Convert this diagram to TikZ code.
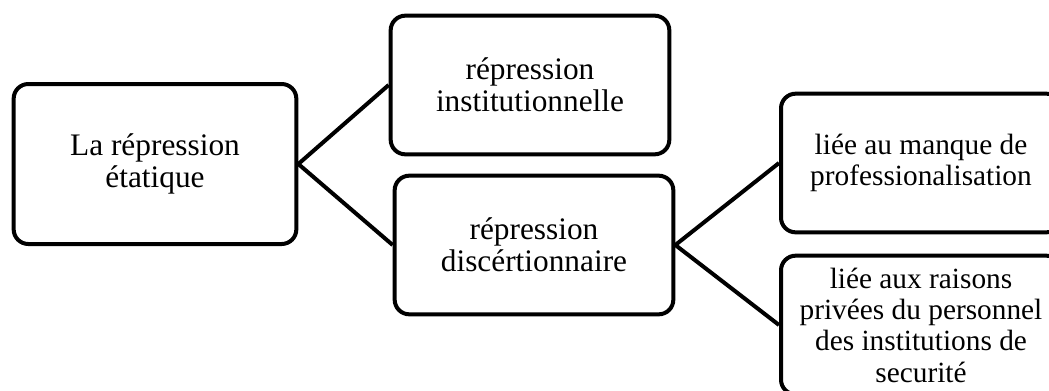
\documentclass[tikz,border=0pt]{standalone}
\usepackage{fontspec}
\setmainfont{Liberation Serif}
\usepackage{tikz}
\usetikzlibrary{positioning}
\tikzset{
  box/.style = {draw=black, line width=3pt, rounded corners=11pt,
    align=center, inner sep=0pt, text centered,
    font=\fontsize{23.5}{24}\selectfont},
  bigbox/.style = {box, minimum width=212pt, minimum height=120pt},
  midbox/.style = {box, minimum width=209pt, minimum height=104pt},
  sidebox/.style = {box, minimum width=210pt, minimum height=104pt,
    font=\fontsize{22}{23.5}\selectfont},
  link/.style = {draw=black, line width=3pt}
}
\begin{document}
\begin{tikzpicture}[x=0.75pt, y=-0.75pt]
\useasboundingbox (0,0) rectangle (1049,390);
\clip (0,0) rectangle (1049,390);
\node [bigbox] (etat) at (155,164) {La répression\\étatique};
\node [midbox] (inst) at (530,85) {répression\\institutionnelle};
\node [midbox] (disc) at (534,245) {répression\\discértionnaire};
\node [sidebox] (manque) at (921,163) {liée au manque de\\professionalisation};
\node [sidebox] (raisons) at (921,325) {liée aux raisons\\privées du personnel\\des institutions de\\securité};
% connectors
\draw [link] (inst.west) -- (etat.east) -- (disc.west);
\draw [link] (manque.west) -- (disc.east) -- (raisons.west);
\end{tikzpicture}
\end{document}
